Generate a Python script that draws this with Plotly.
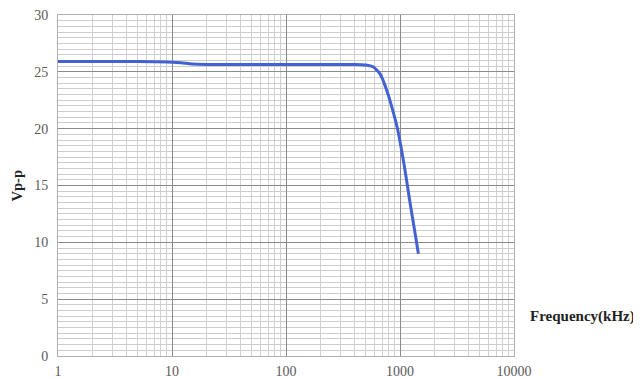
import plotly.graph_objects as go

# frequency response
freq_khz = [1, 5, 10, 12, 15, 20, 50, 100, 200, 400, 500, 580, 670, 770, 870, 960, 1100, 1220, 1330, 1450]
vpp = [25.9, 25.9, 25.85, 25.8, 25.7, 25.65, 25.65, 25.65, 25.65, 25.65, 25.6, 25.45, 24.8, 23.3, 21.5, 19.8, 16.5, 13.6, 11.3, 9.0]

x_ticks = [1, 10, 100, 1000, 10000]
y_ticks = [0, 5, 10, 15, 20, 25, 30]

serif = "Liberation Serif"

fig = go.Figure()
fig.add_trace(
    go.Scatter(
        x=freq_khz,
        y=vpp,
        mode="lines",
        line=dict(color="#4262d2", width=3, shape="spline", smoothing=0.6),
        showlegend=False,
    )
)

fig.update_xaxes(
    type="log",
    range=[0, 4],
    tickvals=x_ticks,
    ticktext=[str(v) for v in x_ticks],
    showgrid=True,
    gridcolor="#8a8a8a",
    gridwidth=1,
    minor=dict(showgrid=True, gridcolor="#d0d0d0", dtick="D1", gridwidth=1),
    showline=True,
    linecolor="#b0b0b0",
    mirror=True,
    zeroline=False,
    ticks="",
    automargin=False,
    ticklabelstandoff=2,
    ticklabeloverflow="allow",
    tickfont=dict(family=serif, size=14, color="#5a5a5a"),
)
fig.update_yaxes(
    range=[0, 30],
    tickvals=y_ticks,
    showgrid=True,
    gridcolor="#8a8a8a",
    gridwidth=1,
    minor=dict(showgrid=True, gridcolor="#cdcdcd", dtick=0.5, gridwidth=1),
    showline=True,
    linecolor="#b0b0b0",
    mirror=True,
    zeroline=False,
    ticks="",
    automargin=False,
    ticklabelstandoff=6,
    ticklabeloverflow="allow",
    tickfont=dict(family=serif, size=14, color="#5a5a5a"),
)

# axis titles placed as annotations
fig.add_annotation(
    text="<b>Frequency(kHz)</b>", xref="paper", yref="paper",
    x=1.031, y=0.117, xanchor="left", yanchor="middle", showarrow=False,
    font=dict(family=serif, size=15, color="#222222"),
)
fig.add_annotation(
    text="<b>Vp-p</b>", xref="paper", yref="paper",
    x=-0.089, y=0.4985, xanchor="center", yanchor="middle", textangle=-90,
    showarrow=False, font=dict(family=serif, size=14.5, color="#222222"),
)

# page body adds an 8px margin, so the figure is a bit smaller than the window
fig.update_layout(
    width=633,
    height=372,
    margin=dict(l=50, r=127, t=7, b=24),
    plot_bgcolor="white",
    paper_bgcolor="white",
)

fig.write_html("out.html")
